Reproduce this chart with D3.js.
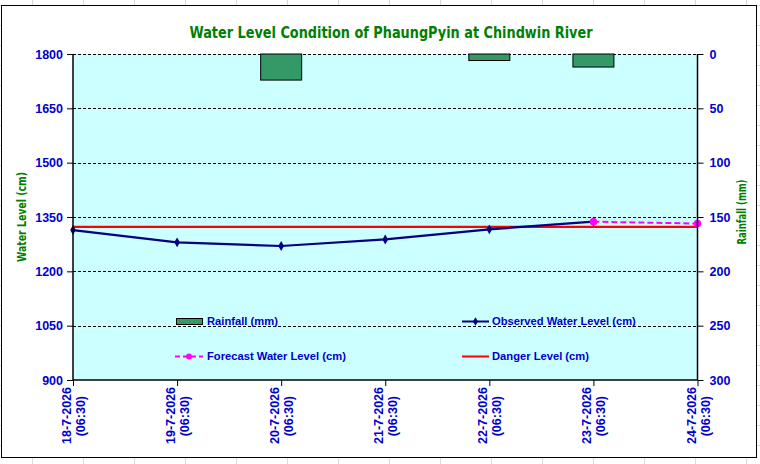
<!DOCTYPE html>
<html><head><meta charset="utf-8">
<script src="https://cdn.jsdelivr.net/npm/d3@7"></script>
<style>body{margin:0;background:#fff}svg{display:block}</style>
</head><body><svg id="c" width="760" height="464"></svg>
<script>
const dates = ["18-7-2026","19-7-2026","20-7-2026","21-7-2026","22-7-2026","23-7-2026","24-7-2026"];
const timeLabel = "(06:30)";
const rainfall = [0, 0, 24, 0, 6, 12, 0];
const observed = [1314, 1280, 1270, 1288, 1316, 1337, null];
const forecast = [null, null, null, null, null, 1337, 1332];
const danger = 1323;
const leftTicks = [900, 1050, 1200, 1350, 1500, 1650, 1800];
const rightTicks = [0, 50, 100, 150, 200, 250, 300];

const svg = d3.select("#c");
const W = 760, H = 464;
const P = {l: 73, r: 697.5, t: 54, b: 380};

// spreadsheet background grid
const bg = svg.append("g").attr("stroke", "#d9d9d9").attr("stroke-width", 1);
d3.range(32, W, 51).forEach(x => bg.append("line").attr("x1", x + .5).attr("x2", x + .5).attr("y1", 0).attr("y2", H));
d3.range(5, H, 20).forEach(y => bg.append("line").attr("y1", y + .5).attr("y2", y + .5).attr("x1", 0).attr("x2", W));

// chart frame
svg.append("rect").attr("x", 1.5).attr("y", 5.5).attr("width", 755).attr("height", 452)
  .attr("fill", "#fff").attr("stroke", "#000");

const x = d3.scalePoint().domain(dates).range([P.l, P.r]);
const yL = d3.scaleLinear().domain([900, 1800]).range([P.b, P.t]);
const yR = d3.scaleLinear().domain([0, 300]).range([P.t, P.b]);

svg.append("rect").attr("x", P.l).attr("y", P.t).attr("width", P.r - P.l).attr("height", P.b - P.t)
  .attr("fill", "#CCFFFF");

// gridlines
svg.append("g").selectAll("line").data(leftTicks.filter(d => d > 900)).join("line")
  .attr("x1", P.l).attr("x2", P.r).attr("y1", d => Math.round(yL(d)) + .5).attr("y2", d => Math.round(yL(d)) + .5)
  .attr("stroke", "#000").attr("stroke-dasharray", "3,2").attr("stroke-width", 1);

// rainfall bars
const bw = 41;
svg.append("g").selectAll("rect").data(dates.map((d, i) => ({d, v: rainfall[i]})).filter(o => o.v > 0)).join("rect")
  .attr("x", o => x(o.d) - bw / 2).attr("y", yR(0)).attr("width", bw).attr("height", o => yR(o.v) - yR(0))
  .attr("fill", "#339966").attr("stroke", "#000").attr("stroke-width", 1);

// danger line
svg.append("line").attr("x1", P.l).attr("x2", P.r).attr("y1", yL(danger)).attr("y2", yL(danger))
  .attr("stroke", "#FF0000").attr("stroke-width", 2.2);

// observed
const obs = dates.map((d, i) => ({d, v: observed[i]})).filter(o => o.v != null);
const line = d3.line().x(o => x(o.d)).y(o => yL(o.v));
svg.append("path").datum(obs).attr("d", line).attr("fill", "none").attr("stroke", "#000080").attr("stroke-width", 2.2);
svg.append("g").selectAll("path").data(obs).join("path")
  .attr("d", d3.symbol(d3.symbolDiamond, 28))
  .attr("transform", o => `translate(${x(o.d)},${yL(o.v)})`).attr("fill", "#000080");

// forecast
const fc = dates.map((d, i) => ({d, v: forecast[i]})).filter(o => o.v != null);
svg.append("path").datum(fc).attr("d", line).attr("fill", "none").attr("stroke", "#FF00FF")
  .attr("stroke-width", 2).attr("stroke-dasharray", "6,3");
svg.append("g").selectAll("circle").data(fc).join("circle")
  .attr("cx", o => x(o.d)).attr("cy", o => yL(o.v)).attr("r", 3.8).attr("fill", "#FF00FF");

// axes
const tickFont = "Liberation Sans, Arial, sans-serif";
const blue = "#0000CC";
const axL = svg.append("g").attr("transform", `translate(${P.l},0)`)
  .call(d3.axisLeft(yL).tickValues(leftTicks).tickSize(6).tickPadding(4).tickFormat(d3.format("d")));
const axR = svg.append("g").attr("transform", `translate(${P.r},0)`)
  .call(d3.axisRight(yR).tickValues(rightTicks).tickSize(6).tickPadding(6).tickFormat(d3.format("d")));
const axB = svg.append("g").attr("transform", `translate(0,${P.b})`)
  .call(d3.axisBottom(x).tickSize(6).tickFormat(""));
[axL, axR, axB].forEach(a => {
  a.select(".domain").attr("stroke", "#000").attr("stroke-width", 1.5);
  a.selectAll(".tick line").attr("stroke", "#000");
  a.selectAll("text").attr("fill", blue).attr("font-family", tickFont).attr("font-weight", "bold").attr("font-size", 12.5);
});
axB.select(".domain").attr("d", `M${P.l},0H${P.r}`);
axL.select(".domain").attr("d", `M0,${P.t}V${P.b}`);
axR.select(".domain").attr("d", `M0,${P.t}V${P.b}`);

// x labels rotated
const xl = svg.append("g");
dates.forEach(d => {
  const g = xl.append("g").attr("transform", `translate(${x(d)},387) rotate(-90)`);
  g.append("text").attr("x", 0).attr("y", -2).attr("text-anchor", "end")
    .attr("fill", blue).attr("font-family", tickFont).attr("font-weight", "bold").attr("font-size", 12.5).text(d);
  g.append("text").attr("x", -9).attr("y", 12).attr("text-anchor", "end")
    .attr("fill", blue).attr("font-family", tickFont).attr("font-weight", "bold").attr("font-size", 12.5).text(timeLabel);
});

// title
const green = "#008000";
const titleFont = "DejaVu Sans Condensed, DejaVu Sans, sans-serif";
svg.append("text").attr("x", 391).attr("y", 38).attr("text-anchor", "middle")
  .attr("fill", green).attr("font-family", titleFont).attr("font-weight", "bold").attr("font-size", 16)
  .attr("textLength", 403).attr("lengthAdjust", "spacingAndGlyphs")
  .text("Water Level Condition of PhaungPyin at Chindwin River");

svg.append("text").attr("transform", "translate(26,217) rotate(-90)").attr("text-anchor", "middle")
  .attr("fill", green).attr("font-family", titleFont).attr("font-weight", "bold").attr("font-size", 11.5)
  .attr("textLength", 90).attr("lengthAdjust", "spacingAndGlyphs")
  .text("Water Level (cm)");
svg.append("text").attr("transform", "translate(746,212) rotate(-90)").attr("text-anchor", "middle")
  .attr("fill", green).attr("font-family", titleFont).attr("font-weight", "bold").attr("font-size", 11.5)
  .attr("textLength", 65).attr("lengthAdjust", "spacingAndGlyphs")
  .text("Rainfall (mm)");

// legend
const lg = svg.append("g").attr("font-family", tickFont).attr("font-weight", "bold").attr("font-size", 11.2).attr("fill", blue);
lg.append("rect").attr("x", 176.5).attr("y", 318.5).attr("width", 26).attr("height", 6).attr("fill", "#339966").attr("stroke", "#000");
lg.append("text").attr("x", 207).attr("y", 325).text("Rainfall (mm)");
lg.append("line").attr("x1", 175).attr("x2", 203).attr("y1", 356.5).attr("y2", 356.5).attr("stroke", "#FF00FF").attr("stroke-width", 2).attr("stroke-dasharray", "5,3");
lg.append("circle").attr("cx", 189).attr("cy", 356.5).attr("r", 3).attr("fill", "#FF00FF");
lg.append("text").attr("x", 207).attr("y", 360).text("Forecast Water Level (cm)");
lg.append("line").attr("x1", 462).attr("x2", 489).attr("y1", 321.5).attr("y2", 321.5).attr("stroke", "#000080").attr("stroke-width", 2);
lg.append("path").attr("d", d3.symbol(d3.symbolDiamond, 22)).attr("transform", "translate(475.5,321.5)").attr("fill", "#000080");
lg.append("text").attr("x", 492).attr("y", 325).text("Observed Water Level (cm)");
lg.append("line").attr("x1", 462).attr("x2", 489).attr("y1", 356.5).attr("y2", 356.5).attr("stroke", "#FF0000").attr("stroke-width", 2);
lg.append("text").attr("x", 492).attr("y", 360).text("Danger Level (cm)");
</script></body></html>
